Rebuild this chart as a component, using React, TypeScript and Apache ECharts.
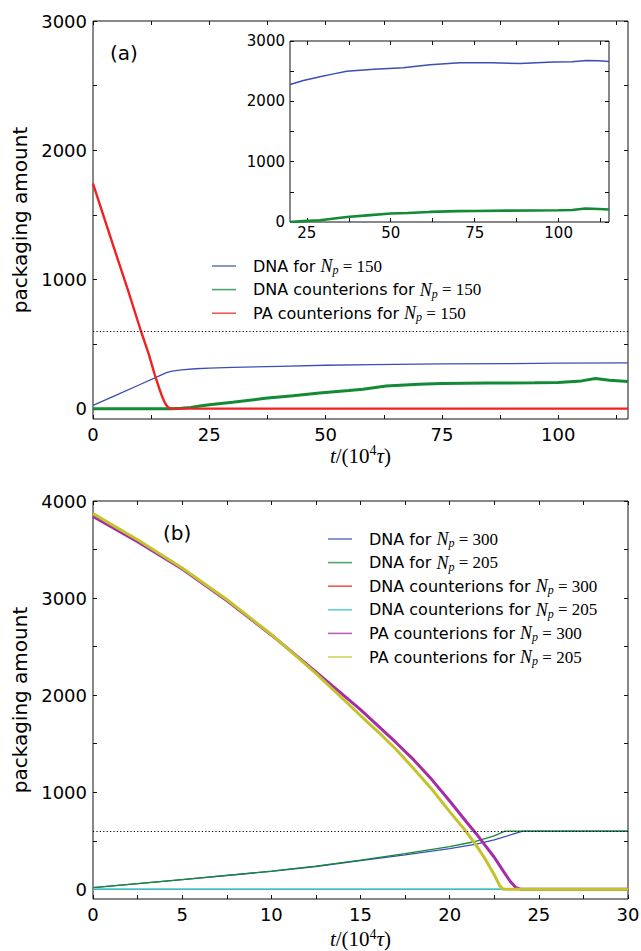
import React, { useEffect, useRef } from 'react';
import * as echarts from 'echarts';

// ---------- Panel (a) data: [t (10^4 tau), amount] ----------
const dnaA: [number, number][] = [
  [0, 25], [5, 105], [10, 185], [13.3, 238], [15.8, 279], [17, 291], [19, 300], [22, 309], [25, 314],
  [30, 319], [40, 328], [50, 336], [60, 341], [75, 346], [90, 349], [100, 352], [115, 355],
];
const cionA: [number, number][] = [
  [0, 0], [17, 0], [19, 3], [21, 10], [23, 20], [25, 30], [30, 50], [37, 80], [43, 100], [48.7, 122],
  [55, 140], [58, 150], [63, 176], [70, 188], [75, 195], [85, 198], [95, 200], [100, 203], [105, 215],
  [108, 233], [111, 220], [115, 210],
];
const paA: [number, number][] = [
  [0, 1742], [5, 1190], [7.5, 919], [10.3, 601], [12, 420], [13.3, 260], [14.2, 160], [14.9, 90], [15.5, 42],
  [16, 15], [16.5, 3], [17, 0], [115, 0],
];

// inset of panel (a)
const dnaIn: [number, number][] = [
  [20, 2278], [24, 2345], [28.9, 2407], [33, 2455], [36.9, 2500], [45, 2530], [53.7, 2557], [61.7, 2607],
  [70.6, 2640], [80, 2640], [88.5, 2628], [98.4, 2650], [104, 2655], [108.3, 2678], [112, 2672], [115, 2662],
];
const cionIn: [number, number][] = [
  [20, 0], [24, 15], [28.9, 30], [36.9, 83], [43, 110], [50, 140], [55, 150], [61.6, 167], [70, 180],
  [75, 183], [85, 188], [100, 195], [104, 200], [108, 223], [112, 215], [115, 207],
];

// ---------- Panel (b) data ----------
const dna300: [number, number][] = [
  [0, 18], [2.5, 58], [5, 100], [7.5, 142], [10, 185], [12.5, 235], [15, 295], [17.5, 355], [20, 420],
  [21.5, 465], [22.5, 510], [23.5, 565], [24.1, 600], [30, 600],
];
const dna205: [number, number][] = [
  [0, 18], [2.5, 58], [5, 100], [7.5, 143], [10, 187], [12.5, 238], [15, 300], [17.5, 368], [20, 440],
  [21.5, 495], [22.5, 550], [23.1, 600], [30, 600],
];
const cion300: [number, number][] = [[0, 0], [30, 0]];
const cion205: [number, number][] = [[0, 0], [30, 0]];
const pa300: [number, number][] = [
  [0, 3840], [2.5, 3580], [5, 3300], [7.5, 2975], [10, 2620], [12.5, 2240], [15, 1850], [16, 1680],
  [17, 1510], [18, 1330], [19, 1130], [20, 910], [21, 680], [21.5, 570], [22, 450], [22.5, 330],
  [23, 190], [23.4, 80], [23.7, 20], [24, 0], [30, 0],
];
const pa205: [number, number][] = [
  [0, 3870], [2.5, 3600], [5, 3310], [7.5, 2985], [10, 2625], [12.5, 2225], [15, 1790], [16, 1620],
  [17, 1440], [18, 1240], [19, 1030], [20, 800], [20.9, 600], [21.5, 450], [22, 310], [22.5, 150],
  [22.8, 40], [23, 0], [30, 0],
];

const threshold = 600;

// ---------- ticks ----------
const xLabA = [0, 25, 50, 75, 100];
const xTickA = [0, 12.5, 25, 37.5, 50, 62.5, 75, 87.5, 100, 112.5];
const yLabA = [0, 1000, 2000, 3000];
const yTickA = [0, 500, 1000, 1500, 2000, 2500, 3000];
const xLabIn = [25, 50, 75, 100];
const xTickIn = [25, 37.5, 50, 62.5, 75, 87.5, 100, 112.5];
const yLabIn = [0, 1000, 2000, 3000];
const yTickIn = [0, 500, 1000, 1500, 2000, 2500, 3000];
const xLabB = [0, 5, 10, 15, 20, 25, 30];
const xTickB = [0, 2.5, 5, 7.5, 10, 12.5, 15, 17.5, 20, 22.5, 25, 27.5, 30];
const yLabB = [0, 1000, 2000, 3000, 4000];
const yTickB = [0, 500, 1000, 1500, 2000, 2500, 3000, 3500, 4000];

const C = {
  blue: '#3c4fb4',
  green: '#138a35',
  red: '#f02222',
  cyan: '#2cc4c4',
  magenta: '#a62ca6',
  yellow: '#c3c32b',
};

const namesA = ['DNA a', 'DNA counterions a', 'PA counterions a'];
const namesB = ['DNA 300', 'DNA 205', 'DNA counterions 300', 'DNA counterions 205', 'PA counterions 300', 'PA counterions 205'];
const legendLabel: Record<string, string> = {
  'DNA a': '{g| }DNA for {i|N}{s|p}{m| = 150}',
  'DNA counterions a': '{g| }DNA counterions for {i|N}{s|p}{m| = 150}',
  'PA counterions a': '{g| }PA counterions for {i|N}{s|p}{m| = 150}',
  'DNA 300': '{g| }DNA for {i|N}{s|p}{m| = 300}',
  'DNA 205': '{g| }DNA for {i|N}{s|p}{m| = 205}',
  'DNA counterions 300': '{g| }DNA counterions for {i|N}{s|p}{m| = 300}',
  'DNA counterions 205': '{g| }DNA counterions for {i|N}{s|p}{m| = 205}',
  'PA counterions 300': '{g| }PA counterions for {i|N}{s|p}{m| = 300}',
  'PA counterions 205': '{g| }PA counterions for {i|N}{s|p}{m| = 205}',
};

const SANS = 'DejaVu Sans';
const SERIF = 'Liberation Serif';

function axis(grid: number, min: number, max: number, position: string,
  ticks: number[], labels: number[] | null, fontSize: number, margin: number, extra: any = {}) {
  return {
    type: 'value', gridIndex: grid, min, max, position,
    axisLine: { show: false, onZero: false },
    splitLine: { show: false },
    axisTick: { show: true, inside: true, length: 4, customValues: ticks, lineStyle: { color: '#111', width: 1 } },
    axisLabel: labels
      ? { show: true, customValues: labels, fontFamily: SANS, fontSize, color: '#000', margin, formatter: (v: number) => String(v) }
      : { show: false },
    ...extra,
  };
}

const xName = {
  nameLocation: 'middle',
  nameTextStyle: {
    fontFamily: SERIF, fontSize: 21, color: '#000', lineHeight: 24,
    rich: {
      i: { fontFamily: SERIF, fontStyle: 'italic', fontSize: 21, lineHeight: 24 },
      sup: { fontFamily: SERIF, fontSize: 14, lineHeight: 10, verticalAlign: 'top' },
    },
  },
};
const xNameText = '{i|t}/(10{sup|4}{i|τ})';
const yName = {
  name: 'packaging amount',
  nameLocation: 'middle',
  nameRotate: 90,
  nameGap: 60,
  nameTextStyle: { fontFamily: SANS, fontSize: 20, color: '#000' },
};

function line(name: string, data: [number, number][], xi: number, yi: number, color: string, width: number, extra: any = {}) {
  return {
    type: 'line', name, data, xAxisIndex: xi, yAxisIndex: yi,
    symbol: 'none', showSymbol: false, silent: true, clip: true,
    lineStyle: { color, width }, itemStyle: { color },
    ...extra,
  };
}

const markLine = {
  silent: true, symbol: ['none', 'none'], label: { show: false },
  lineStyle: { type: [1.2, 2.2], color: '#000', width: 1.2 },
  data: [{ yAxis: threshold }],
};

const legendCommon = {
  orient: 'vertical',
  padding: 0,
  icon: 'rect',
  itemWidth: 24,
  itemHeight: 1.6,
  itemGap: 3.6,
  selectedMode: false,
  itemStyle: { opacity: 0.75 },
  formatter: (n: string) => legendLabel[n],
  textStyle: {
    fontFamily: SANS, fontSize: 16, color: '#000', lineHeight: 20,
    rich: {
      g: { width: 12, lineHeight: 20 },
      i: { fontFamily: SERIF, fontStyle: 'italic', fontSize: 18, lineHeight: 20 },
      s: { fontFamily: SERIF, fontStyle: 'italic', fontSize: 12, lineHeight: 10, verticalAlign: 'bottom' },
      m: { fontFamily: SERIF, fontSize: 17, lineHeight: 20 },
    },
  },
};

export default function App() {
  const ref = useRef<HTMLDivElement>(null);
  useEffect(() => {
    if (!ref.current) return;
    const chart = echarts.init(ref.current, null, { renderer: 'svg' });
    const gridStyle = { show: true, borderColor: '#111', borderWidth: 1, backgroundColor: '#fff', containLabel: false, outerBoundsMode: 'none' };
    chart.setOption({
      animation: false,
      backgroundColor: '#fff',
      grid: [
        { left: 93, top: 21, width: 535, height: 398, ...gridStyle },
        { left: 290, top: 41, width: 319, height: 181, ...gridStyle, z: 3 },
        { left: 93, top: 501, width: 535, height: 398, ...gridStyle },
      ],
      xAxis: [
        axis(0, 0, 115, 'bottom', xTickA, xLabA, 18, 6, { ...xName, name: xNameText, nameGap: 23 }),
        axis(0, 0, 115, 'top', xTickA, null, 18, 6),
        axis(1, 20, 115, 'bottom', xTickIn, xLabIn, 15, 3, { z: 3 }),
        axis(1, 20, 115, 'top', xTickIn, null, 15, 3, { z: 3 }),
        axis(2, 0, 30, 'bottom', xTickB, xLabB, 18, 6, { ...xName, name: xNameText, nameGap: 28 }),
        axis(2, 0, 30, 'top', xTickB, null, 18, 6),
      ],
      yAxis: [
        axis(0, -80, 3000, 'left', yTickA, yLabA, 18, 6, yName),
        axis(0, -80, 3000, 'right', yTickA, null, 18, 6),
        axis(1, 0, 3000, 'left', yTickIn, yLabIn, 15, 5, { z: 3 }),
        axis(1, 0, 3000, 'right', yTickIn, null, 15, 5, { z: 3 }),
        axis(2, -100, 4000, 'left', yTickB, yLabB, 18, 6, yName),
        axis(2, -100, 4000, 'right', yTickB, null, 18, 6),
      ],
      legend: [
        { ...legendCommon, data: namesA, left: 212, top: 256 },
        { ...legendCommon, data: namesB, left: 328, top: 529 },
      ],
      graphic: [
        { type: 'text', left: 110, top: 43, style: { text: '(a)', font: `20px "${SANS}"`, fill: '#000' } },
        { type: 'text', left: 163, top: 523, style: { text: '(b)', font: `20px "${SANS}"`, fill: '#000' } },
      ],
      series: [
        line(namesA[0], dnaA, 0, 0, C.blue, 1.3, { markLine }),
        line(namesA[1], cionA, 0, 0, C.green, 3),
        line(namesA[2], paA, 0, 0, C.red, 2.4),
        line('inset DNA', dnaIn, 2, 2, C.blue, 1.5, { z: 4 }),
        line('inset DNA counterions', cionIn, 2, 2, C.green, 2.6, { z: 4 }),
        line(namesB[0], dna300, 4, 4, C.blue, 1.3, { markLine }),
        line(namesB[1], dna205, 4, 4, C.green, 1.3),
        line(namesB[2], cion300, 4, 4, C.red, 1.0),
        line(namesB[3], cion205, 4, 4, C.cyan, 1.5),
        line(namesB[4], pa300, 4, 4, C.magenta, 3),
        line(namesB[5], pa205, 4, 4, C.yellow, 3),
      ],
    });
    return () => chart.dispose();
  }, []);
  return <div ref={ref} style={{ position: 'fixed', left: 0, top: 0, width: 641, height: 951 }} />;
}
